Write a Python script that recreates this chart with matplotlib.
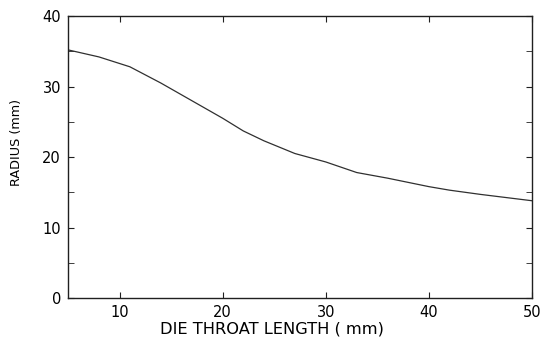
import matplotlib
matplotlib.use("Agg")
import matplotlib.pyplot as plt
from matplotlib.ticker import MultipleLocator

plt.rcParams['font.family'] = ['DejaVu Sans']

# die throat length (mm) vs radius (mm)
length = [5, 8, 11, 14, 17, 20, 22, 24, 27, 30, 33, 36, 40, 42, 45, 50]
radius = [35.2, 34.2, 32.8, 30.5, 28.0, 25.5, 23.7, 22.3, 20.5, 19.3, 17.8, 17.0, 15.8, 15.3, 14.7, 13.8]

fig = plt.figure(figsize=(5.44, 3.41), dpi=100)
ax = fig.add_axes([0.125, 0.126, 0.853, 0.827])
ax.plot(length, radius, color='#303030', lw=0.9)

ax.set_xlim(5, 50)
ax.set_ylim(0, 40)
ax.xaxis.set_major_locator(MultipleLocator(10))
ax.yaxis.set_major_locator(MultipleLocator(10))
ax.yaxis.set_minor_locator(MultipleLocator(5))
ax.tick_params(which='both', direction='in', top=True, right=True,
               labelsize=10.5, color='#202020', pad=5)
ax.tick_params(which='major', length=4)
ax.tick_params(which='minor', length=4)
for s in ax.spines.values():
    s.set_color('#202020')
    s.set_linewidth(1.0)

ax.set_xlabel('DIE THROAT LENGTH ( mm)', fontsize=11.7, va='center')
ax.xaxis.set_label_coords(0.44, -0.11)
ax.set_ylabel('RADIUS (mm)', fontsize=9.2, va='center')
ax.yaxis.set_label_coords(-0.112, 0.553)

fig.savefig('out.png', dpi=100)
